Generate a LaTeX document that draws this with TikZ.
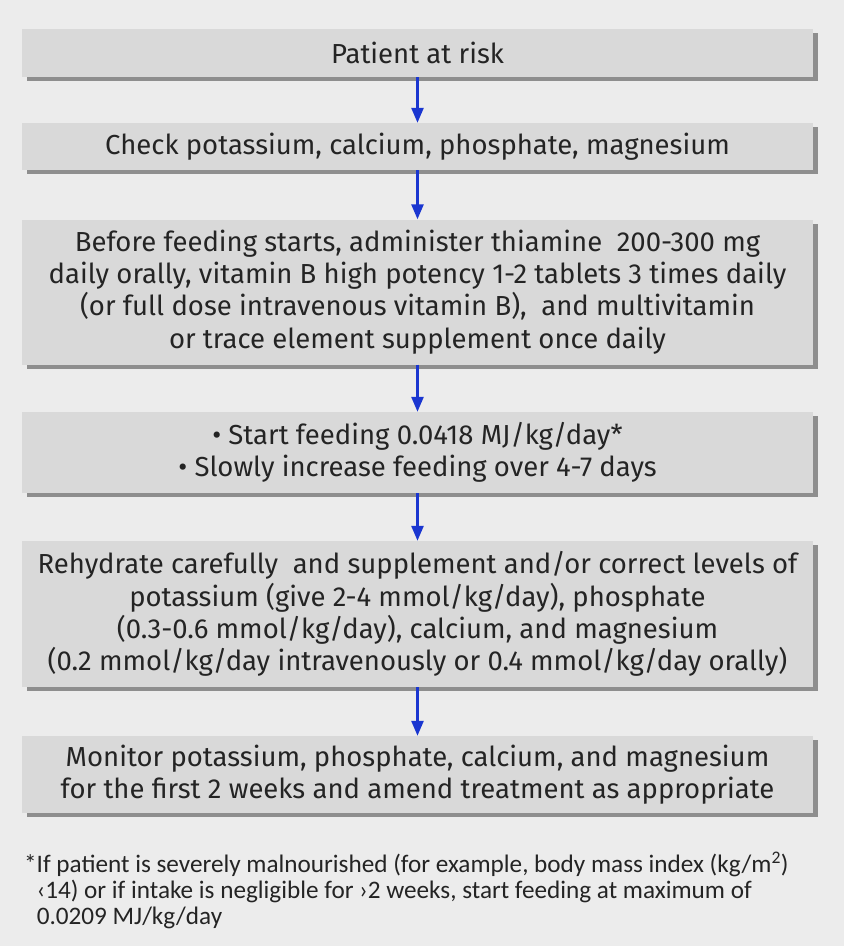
\documentclass[tikz,border=0pt]{standalone}
\usepackage{fontspec}
\setmainfont{Fira Sans}
\newfontfamily\notefont{Carlito}
\usetikzlibrary{arrows.meta,shadows}
\definecolor{bgc}{HTML}{ECECEC}
\definecolor{boxc}{HTML}{D9D9D9}
\definecolor{shc}{HTML}{8E8E8E}
\definecolor{arrc}{HTML}{1A36D0}
\definecolor{txtc}{HTML}{242424}
\tikzset{
  stepbox/.style={fill=boxc, draw=none, minimum width=791pt, inner sep=0pt, align=center,
    text=txtc, font=\fontsize{27.5}{32.3}\selectfont,
    drop shadow={shadow xshift=4.5pt, shadow yshift=-4pt, fill=shc, opacity=1}},
  flowarrow/.style={draw=arrc, line width=2.6pt, -{Triangle[width=12pt,length=15pt]}}
}
\begin{document}
\begin{tikzpicture}[x=1pt,y=-1pt]
\fill[bgc] (0,0) rectangle (844,946);
\useasboundingbox (0,0) rectangle (844,946);
\node[stepbox, minimum height=48pt] (b1) at (417.5,53) {Patient at risk};
\node[stepbox, minimum height=47pt] (b2) at (417.5,146.5) {Check potassium, calcium, phosphate, magnesium};
\node[stepbox, minimum height=145pt] (b3) at (417.5,292) {Before feeding starts, administer thiamine\ \ 200-300 mg\\daily orally, vitamin B high potency 1-2 tablets 3 times daily\\(or full dose intravenous vitamin B),\ \ and multivitamin\\or trace element supplement once daily};
\node[stepbox, minimum height=81pt] (b4) at (417.5,452.5) {\textbullet\ Start feeding 0.0418 MJ/kg/day*\\\textbullet\ Slowly increase feeding over 4-7 days};
\node[stepbox, minimum height=146pt] (b5) at (417.5,614) {Rehydrate carefully\ \ and supplement and/or correct levels of\\potassium (give 2-4 mmol/kg/day), phosphate\\(0.3-0.6 mmol/kg/day), calcium, and magnesium\\(0.2 mmol/kg/day intravenously or 0.4 mmol/kg/day orally)};
\node[stepbox, minimum height=77pt] (b6) at (417.5,774.5) {Monitor potassium, phosphate, calcium, and magnesium\\for the first 2 weeks and amend treatment as appropriate};
\foreach \a/\b in {b1/b2,b2/b3,b3/b4,b4/b5,b5/b6}
  \draw[flowarrow] (\a.south) -- (\b.north);
\node[anchor=north west, inner sep=0pt, align=left, text=txtc, font=\notefont\fontsize{25.2}{26.2}\selectfont] (note) at (24,851.5)
  {*If patient is severely malnourished (for example, body mass index (kg/m\textsuperscript{2})\\
   \phantom{*}‹14) or if intake is negligible for ›2 weeks, start feeding at maximum of\\
   \phantom{*}0.0209 MJ/kg/day};
\end{tikzpicture}
\end{document}
